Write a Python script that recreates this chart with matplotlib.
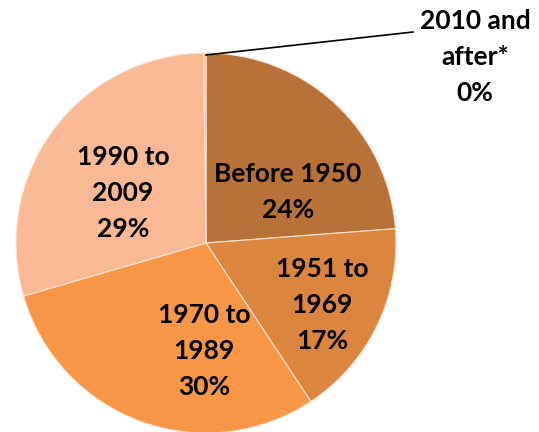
import matplotlib.pyplot as plt

# Share of housing by year built
categories = ['Before 1950', '1951 to\n1969', '1970 to\n1989', '1990 to\n2009', '2010 and\nafter*']
shares = [23.8, 16.9, 29.8, 29.3, 0.2]
colors = ['#B87136', '#DC853F', '#F79646', '#F9B995', '#F9B995']

plt.rcParams['font.family'] = ['Lato', 'DejaVu Sans']

fig = plt.figure(figsize=(5.39, 4.32), dpi=100)
ax = fig.add_axes([0, 0, 1, 1])

cx, cy, r = 206, 189, 190
wedges, _ = ax.pie(shares, colors=colors, startangle=90, counterclock=False,
                   center=(cx, cy), radius=r, frame=True,
                   wedgeprops=dict(edgecolor='#FCE3D2', linewidth=0.8))
ax.set_xlim(0, 539)
ax.set_ylim(0, 432)
ax.set_aspect('equal')
ax.axis('off')

# label positions inside the slices (data coords)
label_xy = [(288, 240), (322, 127), (204, 81), (123, 239)]
for (x, y), cat, s in zip(label_xy, categories[:4], shares[:4]):
    ax.text(x, y, f'{cat}\n{round(s):.0f}%', ha='center', va='center',
            fontsize=19, fontweight='bold', linespacing=1.6, color='black')

# leader line for the tiny slice
ax.plot([206, 413], [377, 400], color='black', linewidth=1.2)
ax.text(475, 375, f'{categories[4]}\n{round(shares[4]):.0f}%', ha='center', va='center',
        fontsize=19, fontweight='bold', linespacing=1.6, color='black')

fig.savefig('out.png', dpi=100)
